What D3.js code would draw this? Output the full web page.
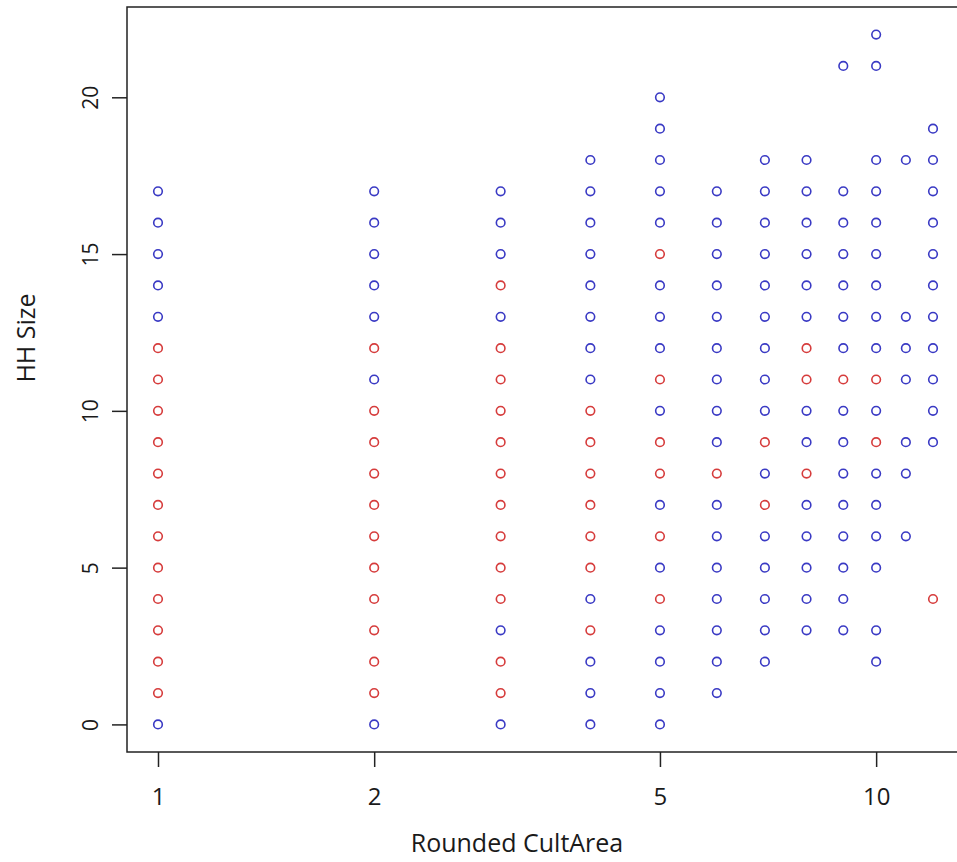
<!DOCTYPE html>
<html>
<head>
<meta charset="utf-8">
<script src="https://cdn.jsdelivr.net/npm/d3@7"></script>
<style>
  body { margin: 0; background: #fff; }
  svg { display: block; font-family: "Open Sans", "Noto Sans", sans-serif; }
</style>
</head>
<body>
<div id="chart"></div>
<script>
// rounded cultivated area (x) and household sizes per column, split by colour
const cultArea = [1, 2, 3, 4, 5, 6, 7, 8, 9, 10, 11, 12]

const blueSizes = [
  [0, 13, 14, 15, 16, 17],
  [0, 11, 13, 14, 15, 16, 17],
  [0, 3, 13, 15, 16, 17],
  [0, 1, 2, 4, 11, 12, 13, 14, 15, 16, 17, 18],
  [0, 1, 2, 3, 5, 7, 10, 12, 13, 14, 16, 17, 18, 19, 20],
  [1, 2, 3, 4, 5, 6, 7, 9, 10, 11, 12, 13, 14, 15, 16, 17],
  [2, 3, 4, 5, 6, 8, 10, 11, 12, 13, 14, 15, 16, 17, 18],
  [3, 4, 5, 6, 7, 9, 10, 13, 14, 15, 16, 17, 18],
  [3, 4, 5, 6, 7, 8, 9, 10, 12, 13, 14, 15, 16, 17, 21],
  [2, 3, 5, 6, 7, 8, 10, 12, 13, 14, 15, 16, 17, 18, 21, 22],
  [6, 8, 9, 11, 12, 13, 18],
  [9, 10, 11, 12, 13, 14, 15, 16, 17, 18, 19]
]

const redSizes = [
  [1, 2, 3, 4, 5, 6, 7, 8, 9, 10, 11, 12],
  [1, 2, 3, 4, 5, 6, 7, 8, 9, 10, 12],
  [1, 2, 4, 5, 6, 7, 8, 9, 10, 11, 12, 14],
  [3, 5, 6, 7, 8, 9, 10],
  [4, 6, 8, 9, 11, 15],
  [8],
  [7, 9],
  [8, 11, 12],
  [11],
  [9, 11],
  [],
  [4]
]

const xTicks = [1, 2, 5, 10]
const yTicks = [0, 5, 10, 15, 20]

const width = 957
const height = 862
const margin = { top: 7, right: -7, bottom: 110, left: 127 }

const points = []
cultArea.forEach((a, i) => {
  blueSizes[i].forEach(s => points.push({ area: a, size: s, col: 'blue' }))
  redSizes[i].forEach(s => points.push({ area: a, size: s, col: 'red' }))
})

const colours = { blue: '#3a3ac4', red: '#d63c3c' }

// log x like R's log="x", with the usual 4% padding
const lx = d3.extent(cultArea).map(Math.log10)
const padX = (lx[1] - lx[0]) * 0.04
const x = d3.scaleLog()
  .domain([Math.pow(10, lx[0] - padX), Math.pow(10, lx[1] + padX)])
  .range([margin.left, width - margin.right])

const yMax = d3.max(blueSizes.concat(redSizes), d => d3.max(d) || 0)
const padY = yMax * 0.04
const y = d3.scaleLinear()
  .domain([-padY, yMax + padY])
  .range([height - margin.bottom, margin.top])

const svg = d3.select('#chart')
  .append('svg')
  .attr('width', width)
  .attr('height', height)

svg.append('g')
  .selectAll('circle')
  .data(points)
  .enter()
  .append('circle')
  .attr('cx', d => x(d.area))
  .attr('cy', d => y(d.size))
  .attr('r', 4.3)
  .attr('fill', 'none')
  .attr('stroke', d => colours[d.col])
  .attr('stroke-width', 1.6)

const xAxis = svg.append('g')
  .attr('transform', 'translate(0,' + (height - margin.bottom) + ')')
  .call(d3.axisBottom(x).tickValues(xTicks).tickFormat(d3.format('d')).tickSize(15).tickPadding(21))

const yAxis = svg.append('g')
  .attr('transform', 'translate(' + margin.left + ',0)')
  .call(d3.axisLeft(y).tickValues(yTicks).tickSize(15).tickPadding(0))

xAxis.select('.domain').remove()
yAxis.select('.domain').remove()

xAxis.selectAll('line').attr('stroke', '#222').attr('stroke-width', 1.5)
yAxis.selectAll('line').attr('stroke', '#222').attr('stroke-width', 1.5)

xAxis.selectAll('text')
  .attr('font-size', 24)
  .attr('fill', '#1a1a1a')
  .attr('font-family', '"Open Sans", sans-serif')

yAxis.selectAll('text')
  .attr('font-size', 21)
  .attr('fill', '#1a1a1a')
  .attr('font-family', '"Open Sans", sans-serif')
  .attr('text-anchor', 'middle')
  .attr('dy', null)
  .attr('x', null)
  .attr('transform', 'translate(-37,0) rotate(-90)')
  .attr('dominant-baseline', 'central')

// plot box
svg.append('rect')
  .attr('x', margin.left)
  .attr('y', margin.top)
  .attr('width', width - margin.right - margin.left)
  .attr('height', height - margin.bottom - margin.top)
  .attr('fill', 'none')
  .attr('stroke', '#222')
  .attr('stroke-width', 1.5)

svg.append('text')
  .attr('x', 517)
  .attr('y', height - 10)
  .attr('text-anchor', 'middle')
  .attr('font-size', 25)
  .attr('fill', '#1a1a1a')
  .text('Rounded CultArea')

svg.append('text')
  .attr('transform', 'translate(25,' + 338 + ') rotate(-90)')
  .attr('text-anchor', 'middle')
  .attr('dominant-baseline', 'central')
  .attr('font-size', 25)
  .attr('fill', '#1a1a1a')
  .text('HH Size')
</script>
</body>
</html>
